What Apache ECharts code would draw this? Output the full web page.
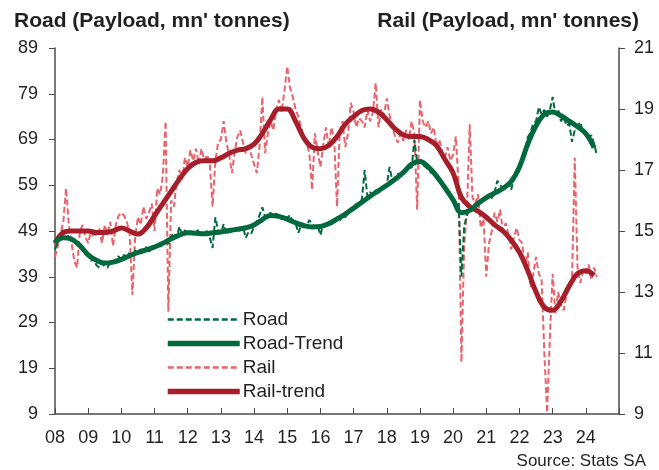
<!DOCTYPE html>
<html>
<head>
<meta charset="utf-8">
<script src="https://cdn.jsdelivr.net/npm/echarts@6/dist/echarts.min.js"></script>
<style>
  html, body { margin: 0; padding: 0; background: #fff; }
  #chart { width: 659px; height: 470px; }
</style>
</head>
<body>
<div id="chart"></div>
<script>
// monthly series, Jan 2008 .. May 2024
var startYear = 2008;

var roadMonthly = [
  45.0, 46.5, 48.5, 49.2, 47.5, 48.0, 46.8, 47.5, 46.0, 45.5, 45.0, 44.0,
  43.5, 42.5, 43.0, 41.5, 41.0, 42.0, 41.2, 41.0, 42.3, 42.0, 42.8, 43.5,
  42.5, 43.8, 43.0, 44.5, 43.5, 44.8, 43.8, 45.0, 44.3, 45.5, 44.5, 45.2,
  45.5, 46.0, 45.2, 46.5, 47.0, 46.2, 47.8, 48.5, 47.5, 50.0, 48.0, 49.2,
  48.5, 49.0, 48.2, 48.8, 49.3, 48.0, 48.6, 49.0, 47.5, 45.3, 52.0, 49.0,
  48.5, 50.5, 48.2, 49.0, 48.5, 49.5, 48.8, 49.2, 50.0, 47.5, 48.8, 48.5,
  50.0, 51.0, 52.5, 54.2, 52.0, 52.5, 53.0, 52.0, 52.8, 52.3, 51.5, 52.5,
  51.8, 52.5, 51.0, 50.8, 48.6, 50.2, 49.8, 50.0, 51.4, 50.5, 49.8, 50.3,
  48.1, 50.5, 50.2, 51.0, 50.5, 51.5, 52.0, 51.2, 52.5, 52.0, 53.0, 53.5,
  54.0, 55.0, 54.5, 56.0, 62.3, 56.5, 57.5, 56.8, 58.0, 57.0, 58.5, 58.2,
  59.0, 63.0, 60.0, 60.5, 61.5, 61.0, 62.0, 62.5, 63.0, 62.8, 69.0, 64.0,
  64.5, 63.5, 63.0, 62.5, 61.7, 62.0, 60.5, 60.0, 59.0, 58.0, 57.5, 56.5,
  56.0, 54.0, 55.0, 39.0, 50.0, 52.5, 53.5, 54.0, 55.0, 55.5, 55.0, 56.0,
  56.5, 57.0, 56.2, 57.5, 60.0, 59.0, 58.5, 59.0, 59.5, 58.0, 60.5, 62.0,
  63.0, 65.0, 67.0, 69.5, 70.5, 72.5, 73.0, 76.1, 74.5, 75.5, 74.0, 75.5,
  78.3, 74.5, 75.5, 73.0, 74.0, 72.0, 72.5, 68.5, 71.0, 72.0, 72.8, 70.5,
  70.0, 69.0, 70.0, 68.0, 65.6
];

var railMonthly = [
  14.15, 14.5, 14.9, 15.3, 16.4, 15.2, 14.6, 14.0, 13.8, 15.0, 15.2, 14.8,
  14.6, 15.0, 14.8, 14.9, 15.1, 14.6, 15.2, 14.9, 15.3, 14.5, 15.2, 15.5,
  15.6, 15.5, 15.3, 14.9, 12.9, 14.8, 15.46, 15.2, 15.8, 15.4, 15.6, 15.9,
  15.0, 16.4, 16.2, 16.8, 18.6, 12.35, 16.0, 15.8, 16.6, 17.0, 16.7, 17.4,
  17.1, 17.65, 17.3, 17.7, 17.2, 17.7, 17.3, 17.5, 17.2, 15.8, 17.3, 17.9,
  18.0, 18.6, 17.9, 17.5, 16.9, 17.6, 18.1, 18.3, 17.9, 17.55, 17.75, 17.5,
  17.2, 16.9, 17.8, 19.4, 17.55, 18.2, 18.6, 18.3, 19.0, 19.3, 18.9, 19.6,
  20.4, 19.7, 19.4, 19.0, 18.75, 18.4, 18.1, 17.9, 17.55, 16.35, 18.2, 17.6,
  17.1, 17.8, 18.4, 17.75, 18.4, 18.0, 15.8, 18.3, 18.6, 17.75, 18.2, 19.2,
  18.9, 18.4, 18.7, 18.6, 18.4, 18.97, 18.6, 18.9, 19.85, 18.4, 19.0, 18.8,
  19.35, 18.8, 18.4, 18.1, 17.9, 18.2, 17.95, 18.3, 18.0, 18.6, 18.2, 15.7,
  19.3, 18.6, 18.4, 18.6, 18.2, 18.4, 17.75, 18.0, 17.6, 17.4, 17.75, 17.3,
  17.5, 18.1, 16.45, 10.7, 14.5, 15.7, 18.5, 16.1, 15.9, 16.2, 15.1, 15.4,
  13.5, 14.6, 15.0, 15.6, 15.3, 15.7, 15.0, 15.26, 14.9, 14.4, 14.8, 15.1,
  14.7, 14.6, 13.8, 14.3, 13.15, 13.6, 14.15, 13.6, 13.4, 11.0, 9.05, 11.5,
  13.6, 12.3, 13.0, 12.6, 12.4, 12.9, 13.15, 13.4, 17.4, 13.8, 13.3, 13.7,
  13.6, 13.9, 13.4, 13.8, 13.5
];

// quarterly trend readings, Q1 2008 .. Q2 2024
var roadTrendQuarterly = [
  46.5, 47.5, 47.2, 45.8,
  43.8, 42.6, 42.0, 42.2,
  42.8, 43.6, 44.3, 44.9,
  45.5, 46.3, 47.3, 48.1,
  48.6, 48.5, 48.4, 48.6,
  48.8, 49.1, 49.4, 49.7,
  50.3, 51.5, 52.4, 52.2,
  51.6, 50.8, 50.2, 49.9,
  50.0, 50.6, 51.6, 52.7,
  54.0, 55.3, 56.6, 57.8,
  59.0, 60.3, 61.8, 63.6,
  64.2, 63.0, 61.0, 58.5,
  55.8, 53.0, 53.5, 55.0,
  56.3, 57.3, 58.3, 59.8,
  63.0, 68.0, 72.0, 74.5,
  75.0, 74.2, 73.0, 71.8,
  70.3, 67.2
];

var railTrendQuarterly = [
  14.6, 14.95, 15.0, 15.0,
  15.0, 14.95, 14.95, 15.0,
  15.1, 15.0, 14.9, 15.1,
  15.5, 15.9, 16.3, 16.7,
  17.05, 17.25, 17.3, 17.3,
  17.4, 17.55, 17.65, 17.7,
  17.85, 18.2, 18.65, 19.0,
  19.0, 18.6, 18.05, 17.75,
  17.7, 17.8, 18.1, 18.5,
  18.75, 18.95, 19.0, 18.9,
  18.65, 18.35, 18.15, 18.1,
  18.1, 18.0, 17.8, 17.35,
  16.9, 16.1, 15.8, 15.65,
  15.45, 15.2, 15.0, 14.7,
  14.3, 13.7, 13.0, 12.5,
  12.4, 12.7, 13.2, 13.6,
  13.7, 13.55
];

function toPoints(values, perYear) {
  return values.map(function (v, i) {
    return [startYear + i / perYear, v];
  });
}

var green = '#00693E';
var railLight = '#E8636C';
var railDark = '#A51E2A';
var textColor = '#231F20';
var axisColor = '#4D4D4D';
var font = 'Liberation Sans, Arial, sans-serif';

var myChart = echarts.init(document.getElementById('chart'));

var option = {
  backgroundColor: '#ffffff',
  animation: false,
  textStyle: { fontFamily: font, color: textColor },
  title: [{
    text: "Road (Payload, mn' tonnes)",
    left: 9, top: 6,
    textStyle: { fontSize: 21, fontWeight: 'bold', color: textColor, fontFamily: font }
  }, {
    text: "Rail (Payload, mn' tonnes)",
    right: 15, top: 6,
    textStyle: { fontSize: 21, fontWeight: 'bold', color: textColor, fontFamily: font }
  }, {
    text: 'Source: Stats SA',
    right: 8, bottom: -5,
    textStyle: { fontSize: 17, fontWeight: 'normal', color: textColor, fontFamily: font }
  }],
  legend: {
    data: [
      { name: 'Road', lineStyle: { width: 2.5 } },
      { name: 'Road-Trend', lineStyle: { width: 5.5 } },
      { name: 'Rail', lineStyle: { width: 2.5 } },
      { name: 'Rail-trend', lineStyle: { width: 5.5 } }
    ],
    orient: 'vertical',
    left: 160,
    top: 305,
    itemWidth: 72,
    itemHeight: 14,
    itemGap: 5,
    itemStyle: { opacity: 0 },
    textStyle: { fontSize: 19, color: textColor, fontFamily: font, padding: [0, 0, 0, -2] }
  },
  grid: { left: 55, right: 40, top: 48, bottom: 56 },
  xAxis: {
    type: 'value',
    min: 2008,
    max: 2025,
    interval: 1,
    splitLine: { show: false },
    axisLine: { lineStyle: { color: axisColor, width: 1.5 } },
    axisTick: { inside: true, length: 6, lineStyle: { color: axisColor } },
    axisLabel: {
      fontSize: 18, color: textColor, margin: 15,
      formatter: function (v) {
        if (v >= 2025) return '';
        return String(v % 100).padStart(2, '0');
      }
    }
  },
  yAxis: [{
    type: 'value',
    min: 9, max: 89, interval: 10,
    splitLine: { show: false },
    axisLine: { show: true, lineStyle: { color: axisColor, width: 1.5 } },
    axisTick: { show: true, length: 6, lineStyle: { color: axisColor } },
    axisLabel: { fontSize: 18, color: textColor, margin: 17 }
  }, {
    type: 'value',
    min: 9, max: 21, interval: 2,
    splitLine: { show: false },
    axisLine: { show: true, lineStyle: { color: axisColor, width: 1.5 } },
    axisTick: { show: true, length: 6, lineStyle: { color: axisColor } },
    axisLabel: { fontSize: 18, color: textColor, margin: 15 }
  }],
  series: [{
    name: 'Road',
    type: 'line',
    yAxisIndex: 0,
    data: toPoints(roadMonthly, 12),
    symbol: 'none',
    z: 3,
    lineStyle: { color: green, width: 2, type: [6, 3] },
    itemStyle: { color: green }
  }, {
    name: 'Road-Trend',
    type: 'line',
    yAxisIndex: 0,
    data: toPoints(roadTrendQuarterly, 4),
    symbol: 'none',
    smooth: 0.4,
    z: 5,
    lineStyle: { color: green, width: 5 },
    itemStyle: { color: green }
  }, {
    name: 'Rail',
    type: 'line',
    yAxisIndex: 1,
    data: toPoints(railMonthly, 12),
    symbol: 'none',
    z: 2,
    lineStyle: { color: railLight, width: 2, type: [6, 3] },
    itemStyle: { color: railLight }
  }, {
    name: 'Rail-trend',
    type: 'line',
    yAxisIndex: 1,
    data: toPoints(railTrendQuarterly, 4),
    symbol: 'none',
    smooth: 0.4,
    z: 4,
    lineStyle: { color: railDark, width: 5 },
    itemStyle: { color: railDark }
  }]
};

myChart.setOption(option);

window.onresize = function () {
  myChart.resize();
};
</script>
</body>
</html>
